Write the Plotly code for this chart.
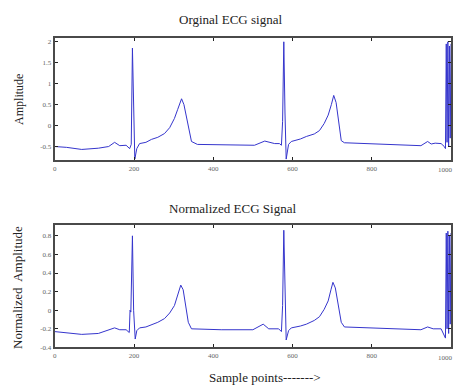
import plotly.graph_objects as go

# ---- data (breakpoints of the traces) ----
orig_x = [0, 30, 68, 110, 136, 151, 164, 180, 189, 193, 196, 199, 202, 207, 214, 230, 244, 260, 277, 290, 302,
          310, 316, 320, 326, 334, 345, 360, 420, 504, 530, 555, 567, 572, 575, 578, 581, 584, 590, 597, 620,
          635, 655, 668, 680, 690, 698, 704, 710, 716, 723, 731, 798, 860, 924, 941, 950, 960, 975, 983, 986,
          988, 990, 992, 994, 996, 998, 1000]
orig_y = [-0.50, -0.52, -0.57, -0.54, -0.50, -0.40, -0.48, -0.47, -0.55, -0.45, 1.85, 0.20, -0.80, -0.55, -0.43,
          -0.40, -0.33, -0.28, -0.19, -0.05, 0.17, 0.38, 0.55, 0.64, 0.50, 0.10, -0.38, -0.45, -0.46, -0.47,
          -0.37, -0.43, -0.43, -0.47, 0.10, 2.00, 0.30, -0.80, -0.45, -0.38, -0.32, -0.26, -0.20, -0.12, 0.05,
          0.25, 0.50, 0.72, 0.55, 0.15, -0.36, -0.41, -0.43, -0.46, -0.48, -0.38, -0.44, -0.42, -0.43, -0.50,
          -0.55, 1.95, -0.40, 2.00, -0.50, 1.90, -0.30, 1.95]

norm_x = [0, 30, 68, 110, 136, 151, 164, 180, 188, 190, 192, 196, 199, 203, 207, 214, 230, 244, 260, 277, 290,
          302, 310, 318, 324, 332, 337, 345, 420, 500, 526, 540, 565, 572, 575, 578, 581, 584, 590, 597, 620,
          635, 655, 668, 680, 690, 697, 702, 708, 716, 723, 731, 798, 870, 924, 941, 955, 975, 980, 986, 988,
          990, 992, 994, 996, 998, 1000]
norm_y = [-0.23, -0.24, -0.26, -0.25, -0.21, -0.19, -0.21, -0.21, -0.24, 0.00, -0.02, 0.80, 0.00, -0.31, -0.22,
          -0.19, -0.18, -0.16, -0.13, -0.09, -0.03, 0.05, 0.15, 0.27, 0.22, 0.02, -0.13, -0.20, -0.21, -0.21,
          -0.15, -0.20, -0.20, -0.23, 0.05, 0.86, 0.10, -0.32, -0.22, -0.19, -0.17, -0.15, -0.11, -0.07, 0.01,
          0.10, 0.22, 0.30, 0.24, 0.05, -0.13, -0.18, -0.19, -0.20, -0.21, -0.18, -0.20, -0.20, -0.25, -0.30,
          0.83, -0.20, 0.85, -0.25, 0.80, -0.15, 0.83]

x_ticks = [0, 200, 400, 600, 800, 1000]
x_tick_text = ["0", "200", "400", "600", "800", "1000"]
top_ticks = [2, 1.5, 1, 0.5, 0, -0.5]
top_tick_text = ["2", "1.5", "1", "0.5", "0", "-0.5"]
bot_ticks = [0.8, 0.6, 0.4, 0.2, 0, -0.2, -0.4]
bot_tick_text = ["0.8", "0.6", "0.4", "0.2", "0", "-0.2", "-0.4"]

W, H = 455, 391
line_color = "#3535cc"
serif = "Liberation Serif"
tick_font = dict(family=serif, size=7, color="#666")

fig = go.Figure()
fig.add_trace(go.Scatter(x=orig_x, y=orig_y, mode="lines", line=dict(color=line_color, width=1),
                         xaxis="x", yaxis="y", showlegend=False))
fig.add_trace(go.Scatter(x=norm_x, y=norm_y, mode="lines", line=dict(color=line_color, width=1),
                         xaxis="x2", yaxis="y2", showlegend=False))

xdom = [53 / W, 451 / W]
top_dom = [(H - 162) / H, (H - 38) / H]
bot_dom = [(H - 351) / H, (H - 227) / H]

axis_common = dict(showline=True, linecolor="#4a4a4a", linewidth=2, mirror="ticks", ticks="inside",
                   ticklen=3, tickcolor="#222", showgrid=False, zeroline=False, tickfont=tick_font)

fig.update_layout(
    width=W, height=H, margin=dict(l=0, r=0, t=0, b=0),
    paper_bgcolor="white", plot_bgcolor="white",
    xaxis=dict(domain=xdom, anchor="y", range=[0, 1000], tickvals=x_ticks, ticktext=x_tick_text, **axis_common),
    yaxis=dict(domain=top_dom, anchor="x", range=[-0.83, 2.1], tickvals=top_ticks, ticktext=top_tick_text,
               **axis_common),
    xaxis2=dict(domain=xdom, anchor="y2", range=[0, 1000], tickvals=x_ticks, ticktext=x_tick_text, **axis_common),
    yaxis2=dict(domain=bot_dom, anchor="x2", range=[-0.4, 0.92], tickvals=bot_ticks, ticktext=bot_tick_text,
                **axis_common),
    font=dict(family=serif),
)

# the last x tick label ("1000") sits at the page edge; keep it fully inside the page
for ypix in (172, 362):
    fig.add_annotation(text=x_tick_text[-1], x=1.0, xref="paper", y=1 - ypix / H, yref="paper",
                       showarrow=False, font=tick_font, xanchor="right", yanchor="middle")


def ann(text, x, y, size, angle=0):
    fig.add_annotation(text=text, x=x / W, y=1 - y / H, xref="paper", yref="paper", showarrow=False,
                       textangle=angle, font=dict(family=serif, size=size, color="#222"),
                       xanchor="center", yanchor="middle")


ann("Orginal ECG signal", 230, 20, 13)
ann("Normalized ECG Signal", 232, 211, 13)
ann("Sample points-------&gt;", 264, 381, 13)
ann("Amplitude", 17, 100, 12, -90)
ann("Normalized  Amplitude", 15, 290, 13, -90)

fig.write_html("out.html")
